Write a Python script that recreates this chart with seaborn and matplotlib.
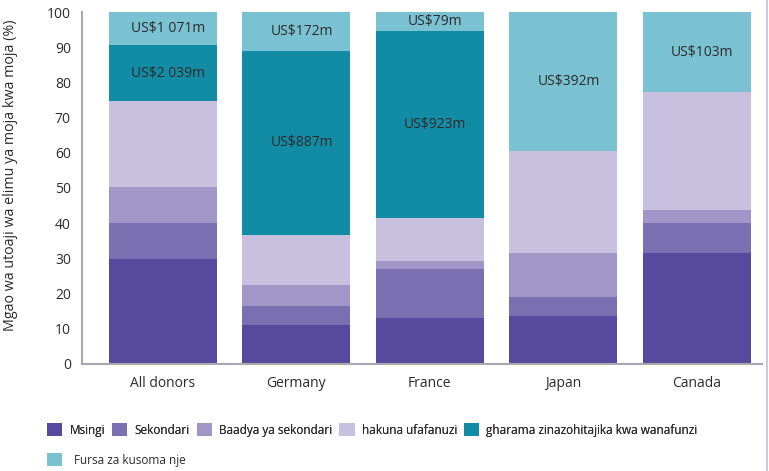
import numpy as np
import pandas as pd
import seaborn as sns
import matplotlib.pyplot as plt
from matplotlib.patches import Patch
from matplotlib.lines import Line2D

donors = ["All donors", "Germany", "France", "Japan", "Canada"]
layers = ["Msingi", "Sekondari", "Baadya ya sekondari", "hakuna ufafanuzi",
          "gharama zinazohitajika kwa wanafunzi", "Fursa za kusoma nje"]

msingi = [29.8, 11.1, 13.1, 13.6, 31.5]
sekondari = [10.2, 5.4, 13.9, 5.4, 8.5]
baadya = [10.2, 6.0, 2.3, 12.5, 3.7]
hakuna = [24.4, 14.2, 12.2, 29.0, 33.5]
gharama = [15.9, 52.3, 53.1, 0.0, 0.0]
fursa = [9.5, 11.0, 5.4, 39.5, 22.8]

# dollar labels: (donor, layer, text)
amounts = [
    ("All donors", "Fursa za kusoma nje", "US$1 071m"),
    ("All donors", "gharama zinazohitajika kwa wanafunzi", "US$2 039m"),
    ("Germany", "Fursa za kusoma nje", "US$172m"),
    ("Germany", "gharama zinazohitajika kwa wanafunzi", "US$887m"),
    ("France", "Fursa za kusoma nje", "US$79m"),
    ("France", "gharama zinazohitajika kwa wanafunzi", "US$923m"),
    ("Japan", "Fursa za kusoma nje", "US$392m"),
    ("Canada", "Fursa za kusoma nje", "US$103m"),
]

colors = ["#574a9e", "#7a6fb0", "#a097c8", "#c7c0de", "#128ca5", "#7ac2d1"]

df = pd.DataFrame(
    [msingi, sekondari, baadya, hakuna, gharama, fursa], index=layers, columns=donors
)
tops = df.cumsum()
bottoms = tops - df

sns.set_style("white")
plt.rcParams["font.family"] = ["Open Sans", "DejaVu Sans"]
text_color = "#2b2b2b"
grey = "#a7a9ac"

fig = plt.figure(figsize=(7.69, 4.71), dpi=100)
ax = fig.add_axes([0.1066, 0.2272, 0.8843, 0.7473])

# stacked bars: draw cumulative totals from the top layer down
for layer, col in reversed(list(zip(layers, colors))):
    sns.barplot(
        x=donors,
        y=tops.loc[layer].values,
        color=col,
        saturation=1,
        width=0.81,
        ax=ax,
        linewidth=0,
    )

for donor, layer, txt in amounts:
    i = donors.index(donor)
    yc = bottoms.loc[layer, donor] + df.loc[layer, donor] / 2
    ax.text(i + 0.04, yc, txt, ha="center", va="center", fontsize=10, color=text_color)

ax.set_ylim(0, 100)
ax.set_xlim(-0.607, 4.49)
ax.set_yticks(np.arange(0, 101, 10))
ax.set_ylabel("Mgao wa utoaji wa elimu ya moja kwa moja (%)", fontsize=10.3, color=text_color)
ax.yaxis.set_label_coords(-0.094, 0.535)
ax.set_xlabel("")
sns.despine(ax=ax)
for s in ["left", "bottom"]:
    ax.spines[s].set_color(grey)
    ax.spines[s].set_linewidth(1.5)
ax.tick_params(axis="y", length=5, width=1.2, color=grey, labelsize=10, labelcolor=text_color, pad=3)
ax.tick_params(axis="x", length=0, labelsize=10, labelcolor=text_color, pad=9)

# legend: first row of five, then the last entry on its own row
handles = [Patch(facecolor=c, edgecolor="none", label=l) for l, c in zip(layers, colors)]
leg_kw = dict(
    frameon=False,
    fontsize=8.5,
    handlelength=1.3,
    handleheight=1.3,
    borderaxespad=0,
    borderpad=0,
    labelcolor=text_color,
    loc="center left",
)
leg1 = fig.legend(handles=handles[:5], ncol=5, bbox_to_anchor=(47 / 769, 1 - 430 / 471),
                  handletextpad=0.6, columnspacing=0.6, **leg_kw)
fig.add_artist(leg1)
fig.legend(handles=handles[5:], ncol=1, bbox_to_anchor=(47 / 769, 1 - 460 / 471),
           handletextpad=0.95, **leg_kw)

fig.add_artist(Line2D([766.5 / 769] * 2, [0, 1], color="#cdc6e2", linewidth=1.5,
                      transform=fig.transFigure))

plt.savefig("out.png", dpi=100)
